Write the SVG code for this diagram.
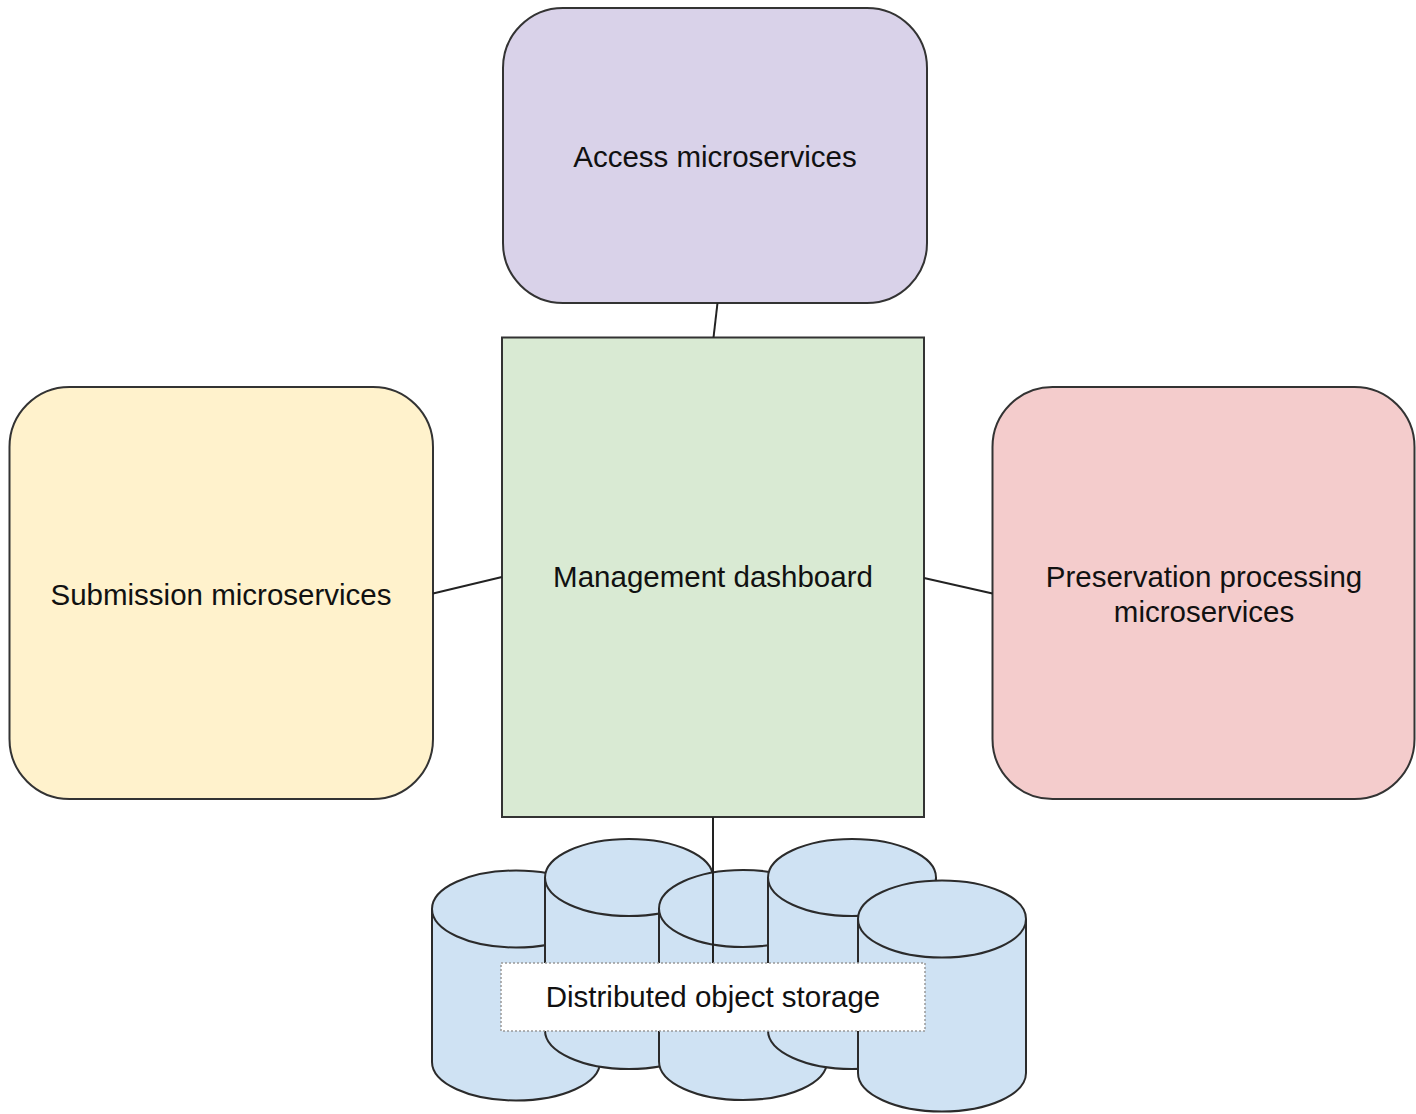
<svg xmlns="http://www.w3.org/2000/svg" width="1416" height="1114" viewBox="0 0 1416 1114">
<style>
.box{stroke:#333;stroke-width:2}
.lbl{font-family:"Liberation Sans",Arial,sans-serif;font-size:29.5px;fill:#111;text-anchor:middle}
.cyl{fill:#cfe2f3;stroke:#2b2b2b;stroke-width:2}
.cyltop{fill:none;stroke:#2b2b2b;stroke-width:2}
.conn{stroke:#222;stroke-width:2;fill:none}
</style>
<rect width="1416" height="1114" fill="#fff"/>
<g id="access">
<rect class="box" x="503" y="8" width="424" height="295" rx="60" ry="60" fill="#d9d2e9"/>
<text class="lbl" x="715" y="166.5">Access microservices</text>
</g>
<g id="management">
<rect class="box" x="502" y="337.5" width="422" height="479.5" fill="#d9ead3"/>
<text class="lbl" x="713" y="587">Management dashboard</text>
</g>
<g id="submission">
<rect class="box" x="9.5" y="387" width="423.5" height="412" rx="60" ry="60" fill="#fff2cc"/>
<text class="lbl" x="221" y="604.5">Submission microservices</text>
</g>
<g id="preservation">
<rect class="box" x="992.5" y="387" width="422" height="412" rx="60" ry="60" fill="#f4cccc"/>
<text class="lbl" x="1204" y="587">Preservation processing</text>
<text class="lbl" x="1204" y="622">microservices</text>
</g>
<g id="storage">
<g id="cyl1">
<path class="cyl" d="M432,909 A84,38.5 0 0 1 600,909 V1062 A84,38.5 0 0 1 432,1062 Z"/>
<path class="cyltop" d="M432,909 A84,38.5 0 0 0 600,909"/>
</g>
<g id="cyl2">
<path class="cyl" d="M545,877.5 A84,38.5 0 0 1 713,877.5 V1030.5 A84,38.5 0 0 1 545,1030.5 Z"/>
<path class="cyltop" d="M545,877.5 A84,38.5 0 0 0 713,877.5"/>
</g>
<g id="cyl3">
<path class="cyl" d="M659,908.5 A84,38.5 0 0 1 827,908.5 V1061.5 A84,38.5 0 0 1 659,1061.5 Z"/>
<path class="cyltop" d="M659,908.5 A84,38.5 0 0 0 827,908.5"/>
</g>
<g id="cyl4">
<path class="cyl" d="M768,877.5 A84,38.5 0 0 1 936,877.5 V1030.5 A84,38.5 0 0 1 768,1030.5 Z"/>
<path class="cyltop" d="M768,877.5 A84,38.5 0 0 0 936,877.5"/>
</g>
<g id="cyl5">
<path class="cyl" d="M858,919 A84,38.5 0 0 1 1026,919 V1073 A84,38.5 0 0 1 858,1073 Z"/>
<path class="cyltop" d="M858,919 A84,38.5 0 0 0 1026,919"/>
</g>
</g>
<g id="connectors">
<line class="conn" x1="717.5" y1="303" x2="713.5" y2="337.5"/>
<line class="conn" x1="433" y1="593.5" x2="502" y2="577"/>
<line class="conn" x1="924" y1="578" x2="992.5" y2="593.5"/>
<line class="conn" x1="713" y1="817" x2="713" y2="963"/>
</g>
<g id="storage-label">
<rect x="501" y="963" width="424" height="68" fill="#fff" stroke="#999" stroke-width="1.5" stroke-dasharray="2,2"/>
<text class="lbl" x="713" y="1007">Distributed object storage</text>
</g>
</svg>
